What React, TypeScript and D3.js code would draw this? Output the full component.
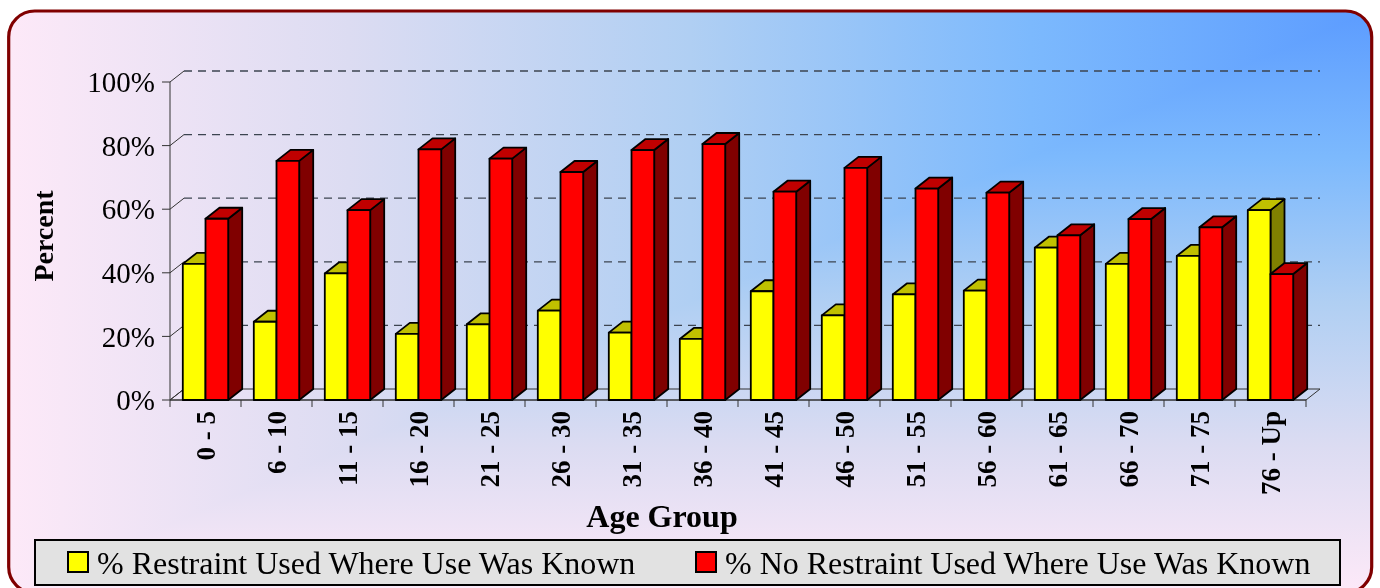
import * as d3 from "d3";

const categories = [
  "0 - 5", "6 - 10", "11 - 15", "16 - 20", "21 - 25", "26 - 30", "31 - 35", "36 - 40",
  "41 - 45", "46 - 50", "51 - 55", "56 - 60", "61 - 65", "66 - 70", "71 - 75", "76 - Up",
];
const restraintUsed = [42.8, 24.6, 39.8, 20.8, 23.8, 28.1, 21.2, 19.2, 34.2, 26.6, 33.2, 34.4, 47.9, 42.8, 45.3, 59.7];
const noRestraint = [57.0, 75.2, 59.7, 78.8, 75.9, 71.7, 78.6, 80.5, 65.5, 73.0, 66.5, 65.2, 51.8, 56.9, 54.3, 39.6];
const yTicks = [0, 20, 40, 60, 80, 100];
const seriesNames = ["% Restraint Used Where Use Was Known", "% No Restraint Used Where Use Was Known"];

const W = 1380;
const H = 588;
const DX = 14;
const DY = -11;
const FONT = "'Liberation Serif', 'Times New Roman', serif";

const palette = [
  { front: "#ffff00", top: "#c0c000", side: "#808000" },
  { front: "#ff0000", top: "#c00000", side: "#800000" },
];

// corner gradient: t=0 at top-right corner, t=1 at far edges
const bgStops = [
  { t: 0, c: "#5c9cff" },
  { t: 0.25, c: "#7cb9fd" },
  { t: 0.5, c: "#b0cff3" },
  { t: 0.75, c: "#dcdcf2" },
  { t: 1, c: "#fde9f8" },
];

const FRAME = { x: 8.7, y: 11, w: 1363, h: 582, r: 26 };

export default function App() {
  const x = d3.scaleBand<string>().domain(categories).range([170, 1306]);
  const inner = d3
    .scaleBand<number>()
    .domain([0, 1])
    .range([0, x.bandwidth()])
    .paddingInner(0)
    .paddingOuter(0.564);
  const y = d3.scaleLinear().domain([0, 100]).range([400, 82]);
  const y0 = y(0);
  const [xl, xr] = x.range();
  const bw = inner.bandwidth();

  const bar = (cx: number, v: number, s: number, key: string) => {
    const yt = y(v);
    const c = palette[s];
    const pts = (a: number[][]) => a.map((p) => p.join(",")).join(" ");
    return (
      <g key={key} stroke="#000" strokeWidth={1.8} strokeLinejoin="round">
        <polygon
          fill={c.side}
          points={pts([[cx + bw, yt], [cx + bw + DX, yt + DY], [cx + bw + DX, y0 + DY], [cx + bw, y0]])}
        />
        <polygon
          fill={c.top}
          points={pts([[cx, yt], [cx + DX, yt + DY], [cx + bw + DX, yt + DY], [cx + bw, yt]])}
        />
        <rect x={cx} y={yt} width={bw} height={y0 - yt} fill={c.front} />
      </g>
    );
  };

  const { x: fx, y: fy, w: fw, h: fh, r: fr } = FRAME;

  return (
    <div style={{ position: "fixed", left: 0, top: 0 }}>
      <svg width={W} height={H} style={{ display: "block" }}>
        <defs>
          <linearGradient id="bgH" gradientUnits="userSpaceOnUse" x1={fx + fw} y1={0} x2={fx} y2={0}>
            {bgStops.map((s) => (
              <stop key={s.t} offset={s.t} stopColor={s.c} />
            ))}
          </linearGradient>
          <linearGradient id="bgV" gradientUnits="userSpaceOnUse" x1={0} y1={fy} x2={0} y2={fy + fh}>
            {bgStops.map((s) => (
              <stop key={s.t} offset={s.t} stopColor={s.c} />
            ))}
          </linearGradient>
          <clipPath id="frameClip">
            <rect x={fx} y={fy} width={fw} height={fh} rx={fr} />
          </clipPath>
        </defs>
        <g clipPath="url(#frameClip)">
          <rect x={fx} y={fy} width={fw} height={fh} fill="url(#bgH)" />
          <polygon
            points={`${fx + fw},${fy} ${fx + fw},${fy + fh} ${fx},${fy + fh}`}
            fill="url(#bgV)"
          />
        </g>
        <rect x={fx} y={fy} width={fw} height={fh} rx={fr} fill="none" stroke="#800000" strokeWidth={3.2} />

        {/* floor */}
        <polygon
          points={`${xl},${y0} ${xl + DX},${y0 + DY} ${xr + DX},${y0 + DY} ${xr},${y0}`}
          fill="none"
          stroke="#333"
          strokeWidth={1}
        />

        {/* gridlines on back wall */}
        {yTicks.map((t) => (
          <g key={`g${t}`}>
            <line x1={xl} y1={y(t)} x2={xl + DX} y2={y(t) + DY} stroke="#333" strokeWidth={1} />
            {t > 0 && (
              <line
                x1={xl + DX}
                y1={y(t) + DY}
                x2={xr + DX}
                y2={y(t) + DY}
                stroke="#3c4450"
                strokeWidth={1.3}
                strokeDasharray="8,6"
              />
            )}
          </g>
        ))}

        {/* y axis */}
        <line x1={xl} y1={y(100)} x2={xl} y2={y0} stroke="#333" strokeWidth={1} />
        {yTicks.map((t) => (
          <g key={`yt${t}`}>
            <line x1={xl - 8} y1={y(t)} x2={xl} y2={y(t)} stroke="#333" strokeWidth={1} />
            <text
              x={xl - 15}
              y={y(t)}
              dy="0.35em"
              textAnchor="end"
              fontFamily={FONT}
              fontSize={29}
              fill="#000"
            >
              {t}%
            </text>
          </g>
        ))}

        {/* x axis */}
        <line x1={xl} y1={y0} x2={xr} y2={y0} stroke="#333" strokeWidth={1} />
        {[...categories.map((c) => x(c) as number), xr].map((v, i) => (
          <line key={`xt${i}`} x1={v} y1={y0} x2={v} y2={y0 + 7} stroke="#333" strokeWidth={1} />
        ))}

        {/* bars */}
        {categories.map((c, i) => {
          const gx = x(c) as number;
          return (
            <g key={c}>
              {bar(gx + (inner(0) as number), restraintUsed[i], 0, "a")}
              {bar(gx + (inner(1) as number), noRestraint[i], 1, "b")}
            </g>
          );
        })}

        {/* category labels */}
        {categories.map((c) => {
          const cx = (x(c) as number) + x.bandwidth() / 2;
          return (
            <text
              key={`l${c}`}
              transform={`translate(${cx},411) rotate(-90)`}
              textAnchor="end"
              dy="0.35em"
              fontFamily={FONT}
              fontWeight="bold"
              fontSize={27}
              fill="#000"
            >
              {c}
            </text>
          );
        })}

        <text
          transform="translate(53,236) rotate(-90)"
          textAnchor="middle"
          fontFamily={FONT}
          fontWeight="bold"
          fontSize={28}
        >
          Percent
        </text>
        <text x={662} y={527} textAnchor="middle" fontFamily={FONT} fontWeight="bold" fontSize={32}>
          Age Group
        </text>

        {/* legend */}
        <rect x={35} y={540} width={1305} height={45} fill="#e2e2e2" stroke="#000" strokeWidth={2} />
        {seriesNames.map((name, i) => {
          const lx = i === 0 ? 68 : 696;
          return (
            <g key={name}>
              <rect x={lx} y={552} width={20} height={20} fill={palette[i].front} stroke="#000" strokeWidth={2} />
              <text x={lx + 29} y={574} fontFamily={FONT} fontSize={32} fill="#000">
                {name}
              </text>
            </g>
          );
        })}
      </svg>
    </div>
  );
}
